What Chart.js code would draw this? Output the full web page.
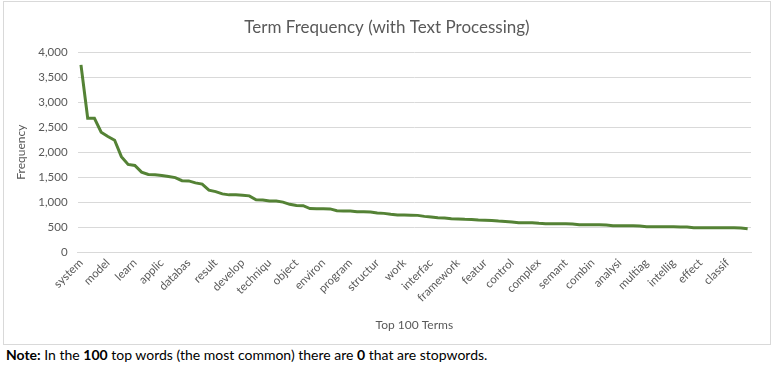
<!DOCTYPE html>
<html>
<head>
<meta charset="utf-8">
<script src="https://cdn.jsdelivr.net/npm/chart.js@4"></script>
<style>
  body { margin: 0; background: #fff; font-family: Lato, 'Open Sans', sans-serif; }
  #box { position: absolute; left: 3px; top: 1px; width: 766px; height: 342px; border: 1px solid #d9d9d9; }
  #note { position: absolute; left: 6px; top: 346px; font-size: 14px; color: #000; white-space: nowrap; }
</style>
</head>
<body>
<div id="box"><canvas id="chart" width="766" height="342"></canvas></div>
<div id="note"><b>Note:</b> In the <b>100</b> top words (the most common) there are <b>0</b> that are stopwords.</div>
<script>
// Terms whose labels are printed (every 4th of the top 100)
const shownTerms = ['system', 'model', 'learn', 'applic', 'databas', 'result', 'develop', 'techniqu',
    'object', 'environ', 'program', 'structur', 'work', 'interfac', 'framework', 'featur', 'control',
    'complex', 'semant', 'combin', 'analysi', 'multiag', 'intellig', 'effect', 'classif'];

// Frequencies of the top 100 terms
const frequency = [
    3750, 2680, 2680, 2400, 2315, 2240, 1910, 1755, 1735, 1600,
    1555, 1550, 1535, 1515, 1490, 1430, 1425, 1385, 1360, 1240,
    1210, 1165, 1145, 1145, 1135, 1125, 1045, 1040, 1020, 1020,
    1000, 955, 930, 928, 870, 866, 866, 864, 828, 824,
    822, 808, 806, 800, 782, 774, 755, 740, 740, 738,
    734, 714, 700, 688, 680, 666, 660, 654, 652, 640,
    638, 632, 620, 612, 602, 588, 586, 585, 574, 566,
    566, 565, 564, 560, 548, 546, 546, 545, 540, 526,
    525, 525, 524, 520, 507, 506, 506, 505, 505, 503,
    500, 486, 486, 485, 485, 485, 485, 485, 482, 466
];

const yTicks = [0, 500, 1000, 1500, 2000, 2500, 3000, 3500, 4000];

// 100 categories; only the printed ones carry a name
const terms = frequency.map((v, i) => i % 4 === 0 ? shownTerms[i / 4] : '');

const textColor = '#595959';
const fontFamily = "Lato, 'Open Sans', sans-serif";

new Chart(document.getElementById('chart').getContext('2d'), {
    type: 'line',
    data: {
        labels: terms,
        datasets: [{
            label: 'Frequency',
            data: frequency,
            borderColor: '#548235',
            borderWidth: 3,
            pointRadius: 0,
            tension: 0,
            fill: false
        }]
    },
    options: {
        responsive: false,
        animation: false,
        // equal side padding keeps the title centred on the box
        layout: { padding: { left: 19, right: 19, top: 0, bottom: 0 } },
        plugins: {
            legend: { display: false },
            tooltip: { enabled: false },
            title: {
                display: true,
                text: 'Term Frequency (with Text Processing)',
                color: textColor,
                font: { family: fontFamily, size: 17, weight: 'normal' },
                padding: { top: 15, bottom: 15 }
            }
        },
        scales: {
            x: {
                offset: true,
                grid: { display: false, drawTicks: false },
                border: { display: true, color: '#d9d9d9' },
                ticks: {
                    autoSkip: false,
                    minRotation: 45,
                    maxRotation: 45,
                    padding: 4,
                    color: textColor,
                    font: { family: fontFamily, size: 11.5 }
                },
                title: {
                    display: true,
                    text: 'Top 100 Terms',
                    color: textColor,
                    font: { family: fontFamily, size: 12 },
                    padding: { top: 0, bottom: 12 }
                },
                afterFit: function(scale) { scale.height = 92; }
            },
            y: {
                min: 0,
                max: 4000,
                afterBuildTicks: function(scale) {
                    scale.ticks = yTicks.map(v => ({ value: v }));
                },
                grid: { color: '#d9d9d9', drawTicks: false },
                border: { display: false },
                ticks: {
                    padding: 10,
                    color: textColor,
                    font: { family: fontFamily, size: 11.5 },
                    callback: v => v.toLocaleString('en-US')
                },
                title: {
                    display: true,
                    text: 'Frequency',
                    color: textColor,
                    font: { family: fontFamily, size: 12 },
                    padding: { top: -9, bottom: 0 }
                },
                afterFit: function(scale) { scale.width = 54.6; }
            }
        }
    }
});
</script>
</body>
</html>
